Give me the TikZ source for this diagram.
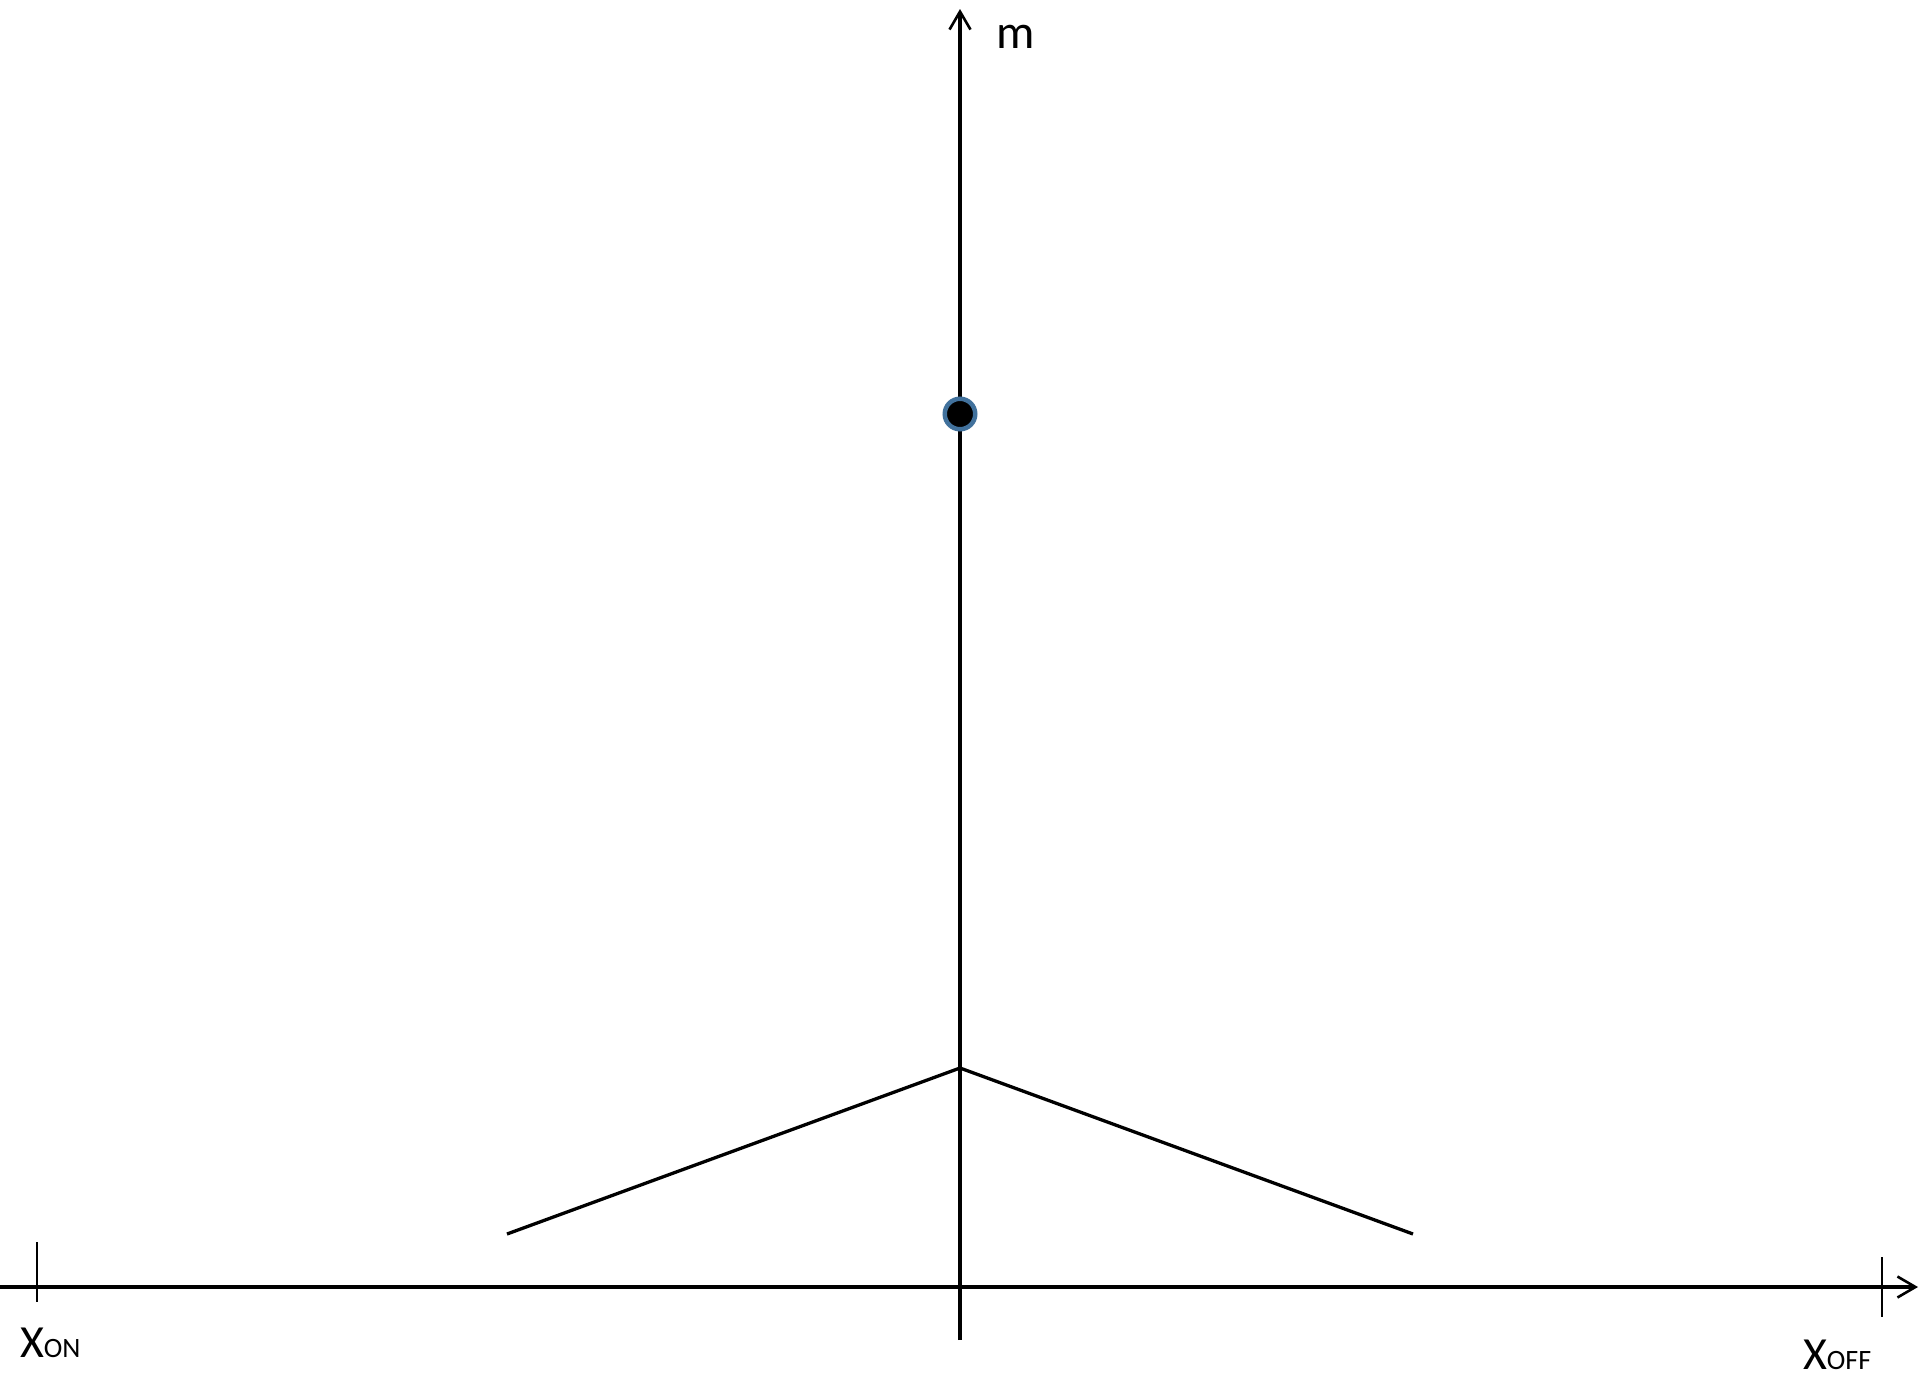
\documentclass[tikz,border=0pt]{standalone}
\usepackage{fontspec}
\setmainfont{Carlito}
\usetikzlibrary{arrows.meta}
\begin{document}
\begin{tikzpicture}[x=1pt,y=-1pt,
  axis/.style={line width=3.1pt,black},
  ticklin/.style={line width=2.5pt,black},
  curve/.style={line width=3.3pt,black},
  lbl/.style={inner sep=0pt,outer sep=0pt,font=\fontsize{46}{46}\selectfont},
  axarrow/.style={-{Straight Barb[length=18pt,width=21pt,line width=2.6pt]}}]
\useasboundingbox (0,0) rectangle (1920,1377);
\coordinate (vbot) at (960,1340);
\coordinate (vtop) at (960,9);
\coordinate (hleft) at (0,1287);
\coordinate (hright) at (1918,1287);
\coordinate (peak) at (960,1068);
\coordinate (lend) at (507,1234);
\coordinate (rend) at (1413,1234);
\coordinate (tlA) at (37,1242);
\coordinate (tlB) at (37,1302);
\coordinate (trA) at (1882,1257);
\coordinate (trB) at (1882,1317);
\draw[axis,axarrow] (vbot) -- (vtop);
\draw[axis,axarrow] (hleft) -- (hright);
\draw[ticklin] (tlA) -- (tlB);
\draw[ticklin] (trA) -- (trB);
\draw[curve] (lend) -- (peak) -- (rend);
\node[circle,fill=black,draw={rgb,255:red,65;green,113;blue,156},line width=4.5pt,minimum size=30.5pt,inner sep=0pt] (dot) at (960,414) {};
\node[lbl,anchor=base west,font=\fontsize{48}{48}\selectfont] (m) at (996,48) {m};
\node[lbl,anchor=base west] (xon) at (20,1357) {X{\fontsize{28}{28}\selectfont ON}};
\node[lbl,anchor=base west] (xoff) at (1803,1369) {X{\fontsize{28}{28}\selectfont OFF}};
\end{tikzpicture}
\end{document}
